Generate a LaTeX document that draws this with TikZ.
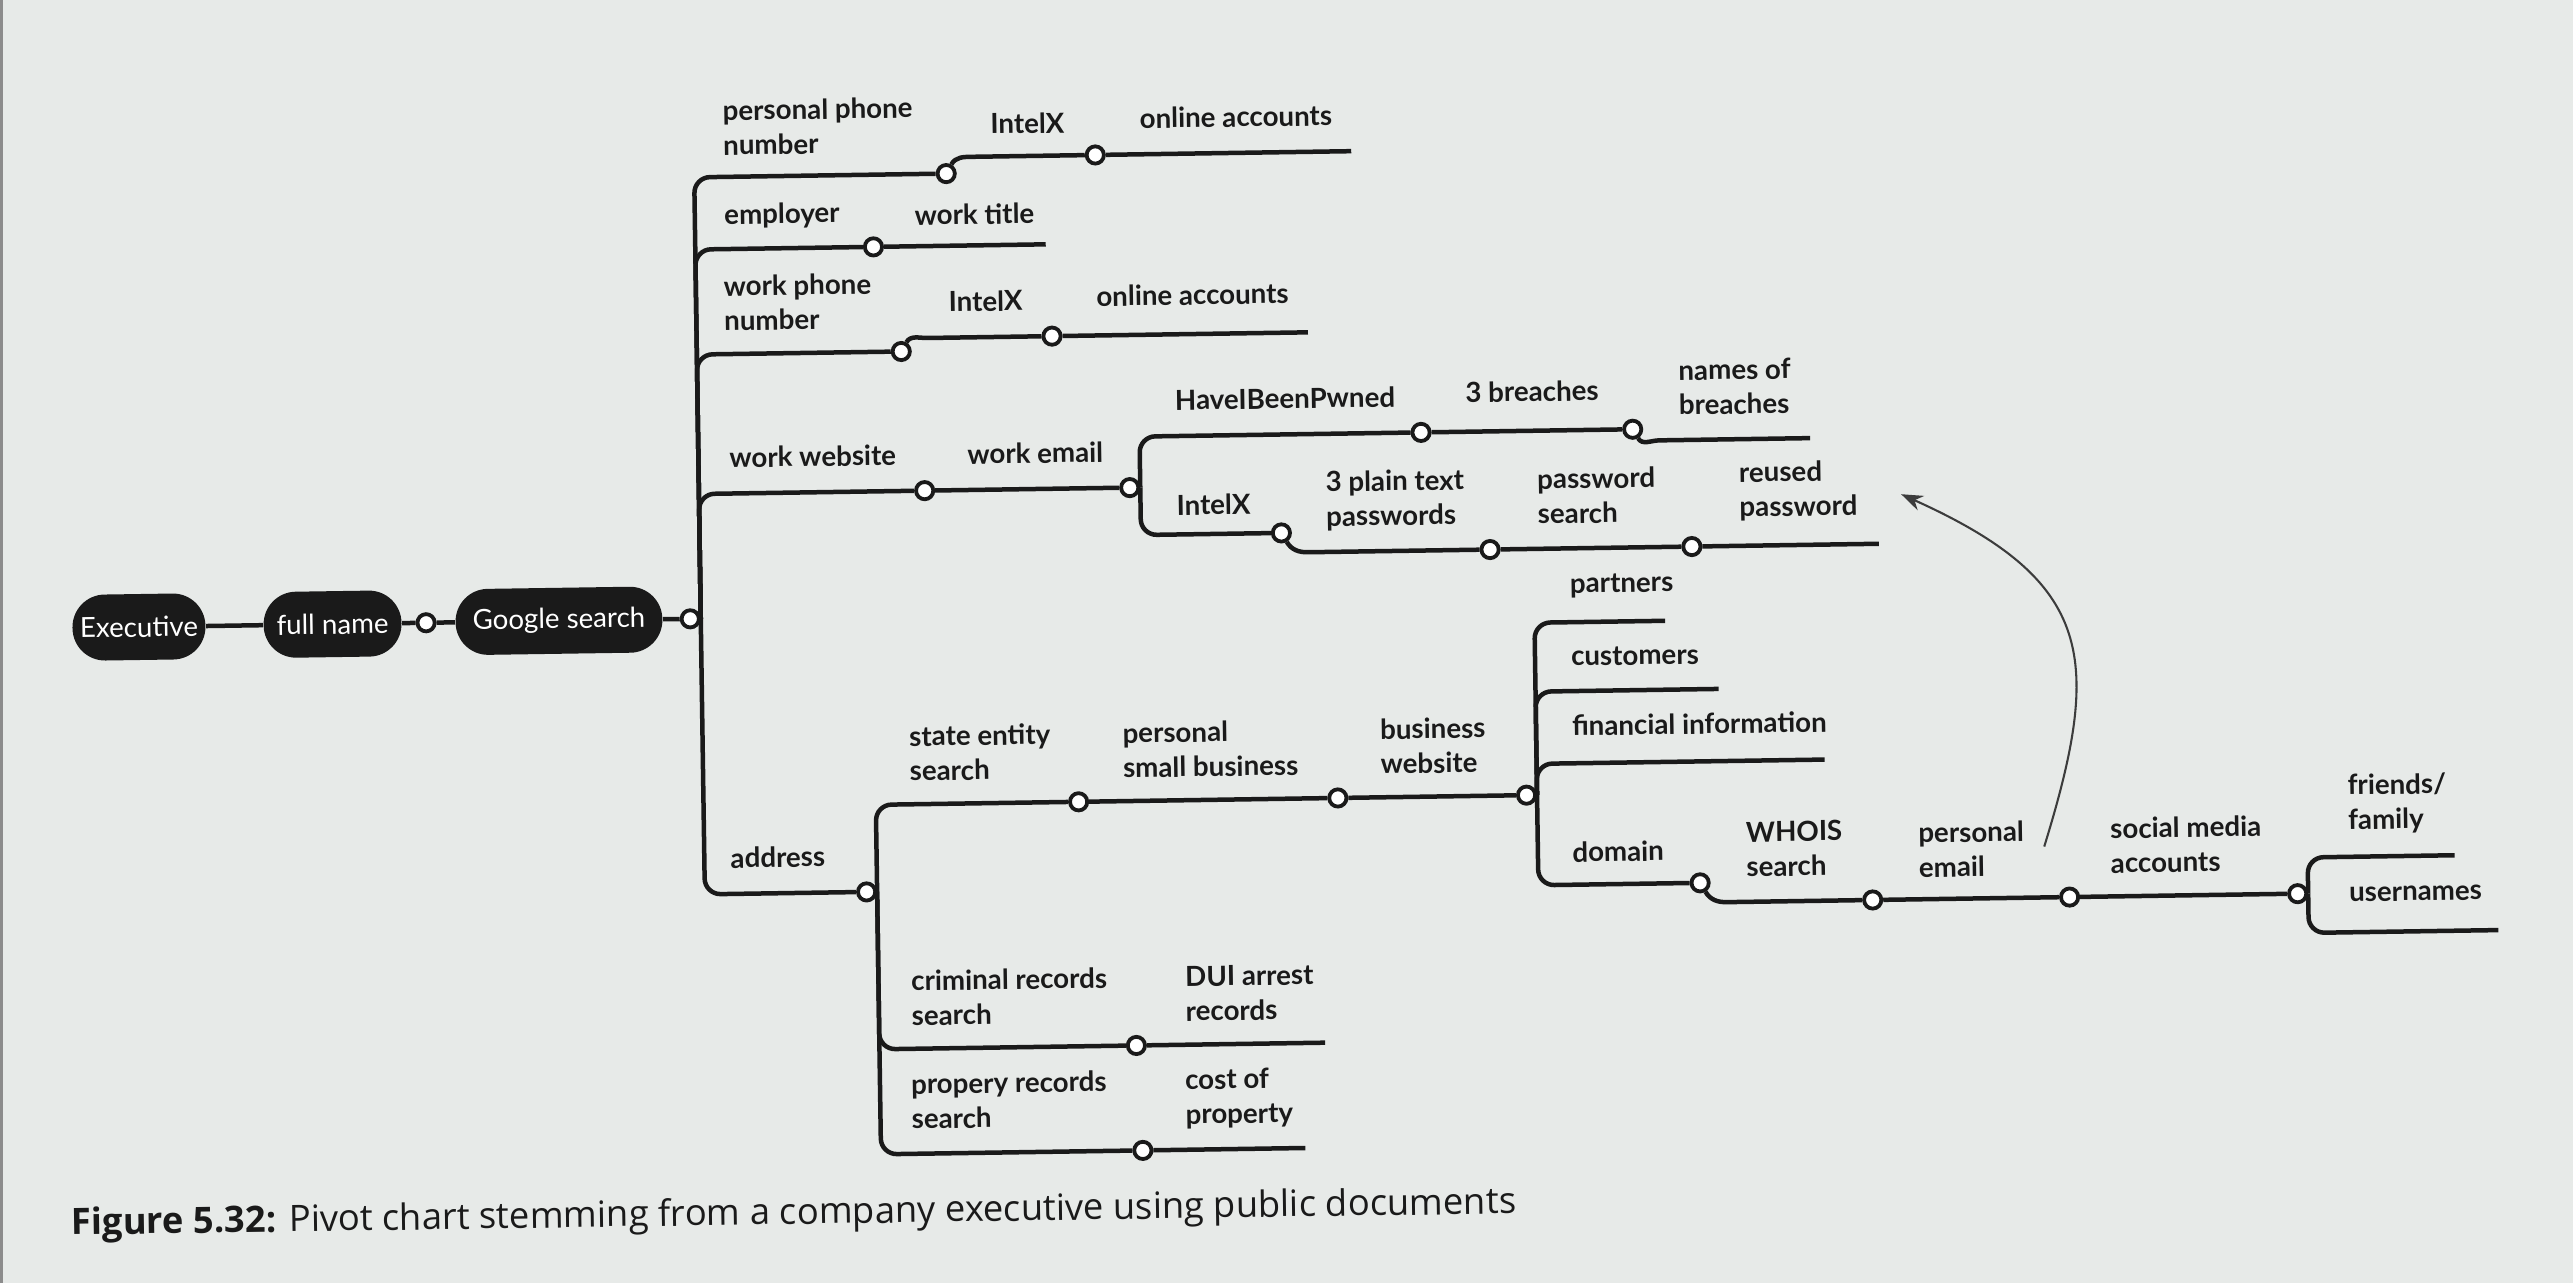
\documentclass[tikz,border=0pt]{standalone}
\usepackage{fontspec}
\setmainfont{Lato}
\newfontfamily\capfont{Open Sans}
\usetikzlibrary{arrows.meta}

\definecolor{paper}{RGB}{231,234,232}
\definecolor{ink}{RGB}{26,26,26}

\tikzset{
	pill/.style={fill=ink, text=white, rounded corners=3.3mm, minimum height=6.7mm, inner sep=0pt, font=\fontsize{8}{10}\selectfont},
	knot/.style={circle, draw=ink, fill=white, line width=1.1pt, inner sep=0pt, minimum size=1.75mm},
	lbl/.style={anchor=west, inner sep=0pt, align=left, text=ink, font=\bfseries\fontsize{8}{10}\selectfont},
	link/.style={draw=ink, line width=1.3pt},
	fork/.style={link, rounded corners=1.6mm},
	hint/.style={draw=ink!85, line width=0.6pt, -{Stealth[length=2.2mm, width=1.6mm]}}
}

\begin{document}
\begin{tikzpicture}[x=0.016667cm, y=0.016667cm]
	\useasboundingbox (0,0) rectangle (1568,782);
	\fill[paper] (0,0) rectangle (1568,782);
	\draw[black!45, line width=1pt] (1,0) -- (1,782);

	\begin{scope}[transform canvas={rotate around={0.85:(700,382)}}]
		\node[pill, minimum width=1.35cm] (exec) at (85, 409) {Executive};
		\node[pill, minimum width=1.4cm] (fname) at (203, 409) {full name};
		\node[knot] (c0) at (260, 409) {};
		\node[pill, minimum width=2.1cm] (google) at (341, 409) {Google search};
		\node[knot] (gt) at (421, 409) {};

		\draw[link] (exec) -- (fname) -- (c0) -- (google) -- (gt);

		% upper branches
		\node[knot] (pp) at (581, 678) {};
		\node[knot] (ix1) at (672, 688) {};
		\coordinate (oa1) at (828, 688);
		\node[knot] (emp) at (536, 634) {};
		\coordinate (wt) at (641, 634);
		\node[knot] (wp) at (552, 570) {};
		\node[knot] (ix2) at (644, 578) {};
		\coordinate (oa2) at (800, 578);
		\node[knot] (ws) at (565, 485) {};
		\node[knot] (we) at (690, 485) {};
		\node[knot] (hb) at (868, 516) {};
		\node[knot] (tb) at (997, 516) {};
		\coordinate (nb) at (1105, 509);
		\node[knot] (ix3) at (782, 456) {};
		\node[knot] (plain) at (909, 444) {};
		\node[knot] (pws) at (1032, 444) {};
		\coordinate (rp) at (1146, 444);

		\draw[fork] (gt.east) |- (pp);
		\draw[fork] (gt.east) |- (emp);
		\draw[fork] (gt.east) |- (wp);
		\draw[fork] (gt.east) |- (ws);
		\draw[link] (pp) to[out=60, in=180] ++(16,10) -- (ix1) -- (oa1);
		\draw[link] (emp) -- (wt);
		\draw[link] (wp) to[out=60, in=180] ++(16,8) -- (ix2) -- (oa2);
		\draw[link] (ws) -- (we);
		\draw[fork] (we.east) |- (hb);
		\draw[fork] (we.east) |- (ix3);
		\draw[link] (hb) -- (tb) to[out=-60, in=180] ++(16,-7) -- (nb);
		\draw[link] (ix3) to[out=-60, in=180] ++(16,-12) -- (plain) -- (pws) -- (rp);

		% address branches
		\node[knot] (ad) at (526, 241) {};
		\node[knot] (se) at (656, 294) {};
		\node[knot] (psb) at (814, 294) {};
		\node[knot] (bw) at (929, 294) {};
		\coordinate (par) at (1015, 399);
		\coordinate (cus) at (1047, 357);
		\coordinate (fin) at (1111, 313);
		\node[knot] (dom) at (1034, 239) {};
		\node[knot] (who) at (1139, 227) {};
		\node[knot] (pem) at (1259, 227) {};
		\node[knot] (sma) at (1398, 227) {};
		\coordinate (ff) at (1494, 249);
		\coordinate (usr) at (1520, 203);
		\node[knot] (crs) at (689, 145) {};
		\coordinate (dui) at (804, 145);
		\node[knot] (prs) at (692, 81) {};
		\coordinate (cop) at (791, 81);

		\draw[fork] (gt.east) |- (ad);
		\draw[fork] (ad.east) |- (se);
		\draw[fork] (ad.east) |- (crs);
		\draw[fork] (ad.east) |- (prs);
		\draw[link] (se) -- (psb) -- (bw);
		\draw[fork] (bw.east) |- (par);
		\draw[fork] (bw.east) |- (cus);
		\draw[fork] (bw.east) |- (fin);
		\draw[fork] (bw.east) |- (dom);
		\draw[link] (dom) to[out=-60, in=180] ++(16,-12) -- (who) -- (pem) -- (sma);
		\draw[fork] (sma.east) |- (ff);
		\draw[fork] (sma.east) |- (usr);
		\draw[link] (crs) -- (dui);
		\draw[link] (prs) -- (cop);

		% labels
		\node[lbl] (lppn) at (445, 708) {personal phone\\number};
		\node[lbl] (lix1) at (608, 708) {IntelX};
		\node[lbl] (loa1) at (699, 710) {online accounts};
		\node[lbl] (lemp) at (445, 654) {employer};
		\node[lbl] (lwt) at (561, 653) {work title};
		\node[lbl] (lwpn) at (444, 601) {work phone\\number};
		\node[lbl] (lix2) at (581, 600) {IntelX};
		\node[lbl] (loa2) at (671, 602) {online accounts};
		\node[lbl] (lws) at (446, 507) {work website};
		\node[lbl] (lwe) at (591, 507) {work email};
		\node[lbl] (lhb) at (718, 538) {HaveIBeenPwned};
		\node[lbl] (ltb) at (895, 540) {3 breaches};
		\node[lbl] (lnb) at (1025, 541) {names of\\breaches};
		\node[lbl] (lix3) at (718, 474) {IntelX};
		\node[lbl] (lpt) at (809, 475) {3 plain text\\passwords};
		\node[lbl] (lps) at (938, 476) {password\\search};
		\node[lbl] (lrp) at (1061, 477) {reused\\password};
		\node[lbl] (ladr) at (443, 263) {address};
		\node[lbl] (lse) at (553, 325) {state entity\\search};
		\node[lbl] (lpsb) at (683, 325) {personal\\small business};
		\node[lbl] (lbw) at (840, 325) {business\\website};
		\node[lbl] (lpar) at (957, 421) {partners};
		\node[lbl] (lcus) at (957, 378) {customers};
		\node[lbl] (lfin) at (957, 336) {financial information};
		\node[lbl] (ldom) at (956, 259) {domain};
		\node[lbl] (lwho) at (1062, 259) {WHOIS\\search};
		\node[lbl] (lpem) at (1167, 257) {personal\\email};
		\node[lbl] (lsma) at (1284, 258) {social media\\accounts};
		\node[lbl] (lff) at (1429, 281) {friends/\\family};
		\node[lbl] (lusr) at (1429, 226) {usernames};
		\node[lbl] (lcrs) at (552, 176) {criminal records\\search};
		\node[lbl] (ldui) at (719, 176) {DUI arrest\\records};
		\node[lbl] (lprs) at (551, 113) {propery records\\search};
		\node[lbl] (lcop) at (718, 112) {cost of\\property};

		% reuse hint
		\coordinate (hs) at (1244, 258);
		\coordinate (he) at (1160, 474);
		\draw[hint] (hs) .. controls +(37,114) and +(117.5,-55) .. (he);

		\node[anchor=west, inner sep=0pt, text=ink, font=\capfont\fontsize{10.5}{12}\selectfont] (cap) at (38, 45) {\textbf{Figure 5.32:} Pivot chart stemming from a company executive using public documents};
	\end{scope}
\end{tikzpicture}
\end{document}
